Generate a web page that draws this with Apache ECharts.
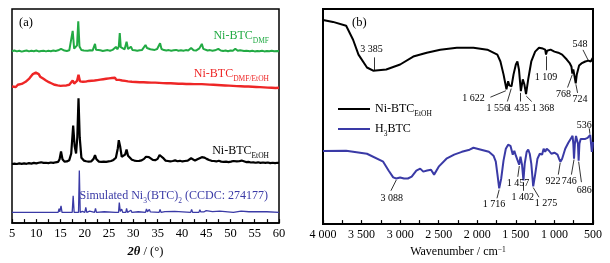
<!DOCTYPE html>
<html>
<head>
<meta charset="utf-8">
<script src="https://cdn.jsdelivr.net/npm/echarts@6/dist/echarts.min.js"></script>
<style>
  html, body { margin: 0; padding: 0; background: #fff; }
  #chart { width: 610px; height: 263px; }
</style>
</head>
<body>
<div id="chart"></div>
<script>
// ---- (a) XRD patterns: [2theta, intensity above own baseline] ----
var xrdDMF = [[5,0.3],[5.5,0.6],[6,0.2],[6.5,0.5],[7,0.1],[7.5,0.4],[8,0.6],[8.5,0.2],[9,0.5],[9.5,0.3],[10,0.6],[10.5,0.2],[11,0.4],[11.5,0.5],[12,0.2],[12.5,0.5],[13,0.3],[13.5,0.6],[14,0.4],[14.5,0.7],[14.9,0.5],[15.1,1.4],[15.3,0.5],[15.8,0.6],[16.3,0.4],[16.8,0.7],[17.2,1.2],[17.5,9.8],[17.8,1.5],[18.1,1.0],[18.4,3],[18.65,14.2],[18.9,2.5],[19.3,0.8],[19.8,0.6],[20.2,1.0],[20.6,0.5],[21.1,0.7],[21.6,0.6],[21.9,1.5],[22.1,3.7],[22.3,1.0],[22.7,0.5],[23.2,0.7],[23.7,0.4],[24.2,0.6],[24.7,0.8],[25.2,0.5],[25.7,0.9],[26.1,1.0],[26.4,2.3],[26.7,1.2],[27.0,2.5],[27.2,8.7],[27.4,2.2],[27.8,1.4],[28.2,1.2],[28.6,4.7],[28.9,1.3],[29.2,1.0],[29.5,2.4],[29.8,0.9],[30.3,0.7],[30.8,0.5],[31.3,0.7],[31.8,0.9],[32.2,1.5],[32.5,3.2],[32.8,1.8],[33.2,2.2],[33.5,1.2],[33.9,1.0],[34.4,0.9],[34.9,1.3],[35.2,1.8],[35.5,4.0],[35.8,1.3],[36.3,0.8],[36.8,0.6],[37.3,0.8],[37.8,0.5],[38.3,0.7],[38.8,0.9],[39.3,0.5],[39.8,0.7],[40.3,0.5],[40.8,0.8],[41.3,0.6],[41.9,1.8],[42.4,0.7],[42.9,0.6],[43.3,1.2],[43.6,1.6],[43.9,1.2],[44.1,3.7],[44.4,1.4],[44.8,1.0],[45.3,0.6],[45.8,0.8],[46.3,0.5],[46.8,0.7],[47.5,1.4],[48.0,0.6],[48.5,0.4],[49,0.6],[49.5,0.3],[50,0.6],[50.5,0.5],[51,1.4],[51.5,0.5],[52,0.7],[52.3,1.0],[52.8,0.4],[53.3,0.5],[54,0.3],[54.5,0.5],[55,0.2],[55.5,0.4],[56,0.3],[56.5,0.5],[57,0.2],[57.5,0.4],[58,0.3],[58.5,0.5],[59,0.3],[59.4,1.2],[59.7,0.4],[60,0.3]];

var xrdDMFEtOH = [[5,0.8],[5.4,1.5],[5.8,0.6],[6.2,1.6],[6.6,1.0],[7,2.0],[7.4,1.6],[7.8,3.0],[8.2,3.2],[8.6,4.6],[9,5.2],[9.3,6.6],[9.6,6.2],[9.9,7.3],[10.2,6.4],[10.5,6.6],[10.8,5.4],[11.1,5.6],[11.4,4.5],[11.7,4.6],[12,3.6],[12.3,3.8],[12.6,2.8],[12.9,3.1],[13.2,2.2],[13.5,2.6],[13.8,1.6],[14.1,2.2],[14.4,1.3],[14.7,1.9],[15,1.1],[15.3,2.0],[15.6,1.2],[15.9,1.9],[16.2,1.3],[16.5,2.2],[16.8,1.6],[17.1,2.4],[17.5,3.6],[17.8,2.2],[18.1,2.8],[18.4,3.4],[18.7,6.3],[19.0,3.2],[19.3,2.4],[19.6,3.0],[19.9,2.2],[20.2,3.1],[20.5,2.5],[20.8,3.4],[21.1,2.6],[21.4,3.5],[21.7,2.7],[22,3.6],[22.3,2.9],[22.6,3.8],[22.9,3.0],[23.2,4.0],[23.5,3.2],[23.8,4.2],[24.1,3.4],[24.4,4.4],[24.7,3.6],[25,4.6],[25.3,3.8],[25.6,4.8],[25.9,4.0],[26.2,4.9],[26.5,3.9],[26.8,4.7],[27.1,3.9],[27.4,4.6],[27.7,3.6],[28,4.4],[28.3,3.4],[28.6,4.1],[28.9,3.2],[29.3,3.9],[29.7,3.0],[30.1,3.7],[30.5,2.9],[30.9,3.6],[31.3,2.8],[31.7,3.5],[32.1,2.8],[32.5,3.5],[32.9,2.7],[33.3,3.4],[33.7,2.6],[34.1,3.3],[34.5,2.6],[34.9,3.3],[35.3,2.5],[35.7,3.2],[36.1,2.4],[36.5,3.1],[36.9,2.3],[37.3,3.0],[37.7,2.3],[38.1,2.9],[38.5,2.2],[38.9,2.8],[39.3,2.1],[39.7,2.8],[40.1,2.1],[40.5,2.7],[40.9,2.0],[41.3,2.7],[41.7,2.0],[42.1,2.6],[42.5,1.9],[42.9,2.6],[43.3,1.9],[43.7,2.6],[44.1,1.9],[44.5,2.5],[44.9,1.8],[45.3,2.4],[45.7,1.7],[46.1,2.3],[46.5,1.6],[46.9,2.2],[47.3,1.5],[47.7,2.1],[48.1,1.4],[48.5,2.0],[48.9,1.3],[49.3,1.9],[49.7,1.2],[50.1,1.8],[50.5,1.1],[50.9,1.7],[51.3,1.0],[51.7,1.6],[52.1,0.9],[52.5,1.5],[52.9,0.8],[53.3,1.4],[53.7,0.8],[54.1,1.3],[54.5,0.7],[54.9,1.2],[55.3,0.6],[55.7,1.1],[56.1,0.5],[56.5,1.0],[56.9,0.4],[57.3,0.9],[57.7,0.3],[58.1,0.8],[58.5,0.2],[58.9,0.7],[59.3,0.1],[59.7,0.6],[60,0.2]];

var xrdEtOH = [[5,-0.4],[5.5,-0.2],[6,-0.4],[6.5,-0.1],[7,-0.3],[7.5,-0.1],[8,-0.3],[8.5,0],[9,-0.2],[9.5,0.1],[10,-0.1],[10.5,0.2],[11,0.4],[11.5,0.1],[12,0.2],[12.5,0.0],[13,0.3],[13.5,0.1],[14,0.4],[14.5,0.6],[14.8,1.8],[15.1,5.5],[15.4,1.8],[15.8,0.7],[16.3,0.8],[16.8,1.4],[17.2,4.5],[17.6,17.6],[17.9,8.0],[18.2,4.5],[18.45,12],[18.7,30.3],[18.95,12],[19.3,2.5],[19.8,1.2],[20.3,0.9],[20.8,0.7],[21.3,0.8],[21.8,2.0],[22.1,3.8],[22.4,1.8],[22.9,0.7],[23.4,0.6],[23.9,0.7],[24.4,0.6],[24.9,0.8],[25.4,1.0],[25.9,1.5],[26.4,2.5],[26.8,7],[27.0,10.7],[27.3,7.5],[27.6,3.0],[28.0,2.2],[28.3,4],[28.6,6.4],[28.9,3.5],[29.3,3.2],[29.7,1.6],[30.2,1.2],[30.7,1.0],[31.2,1.1],[31.7,1.3],[32.2,2.0],[32.6,3.0],[32.9,3.2],[33.2,2.8],[33.6,2.0],[34.0,1.5],[34.5,1.4],[35.0,2.0],[35.4,3.8],[35.75,4.6],[36.1,2.5],[36.6,1.2],[37.1,1.0],[37.6,0.8],[38.1,1.0],[38.6,1.3],[39.1,0.9],[39.6,1.1],[40.1,0.8],[40.6,1.0],[41.2,1.2],[41.6,2.0],[41.9,2.3],[42.2,1.6],[42.7,1.2],[43.2,1.8],[43.6,2.4],[44.1,2.8],[44.6,2.6],[45.1,2.0],[45.6,1.5],[46.1,1.1],[46.6,1.0],[47.1,0.8],[47.6,1.1],[48.1,0.7],[48.6,0.6],[49.1,0.7],[49.6,0.5],[50.1,0.7],[50.6,1.0],[50.9,1.5],[51.3,0.8],[51.8,0.9],[52.3,1.2],[52.7,0.7],[53.2,0.5],[53.7,0.6],[54.2,0.3],[54.7,0.4],[55.2,0.2],[55.7,0.4],[56.2,0.1],[56.7,0.3],[57.2,0.1],[57.7,0.3],[58.2,0],[58.7,0.2],[59.2,0],[59.7,0.2],[60,0.1]];

var xrdSim = [[5,0],[10.6,0],[10.8,0.9],[11,0],[14.5,0],[14.7,1.8],[14.85,0.3],[15.1,3.1],[15.3,0],[17.4,0],[17.6,7.7],[17.8,0],[18.7,0],[18.87,19.6],[19.05,0],[19.5,0.5],[19.7,0],[20.0,0],[20.2,2.3],[20.4,0],[21.0,0.6],[21.2,0],[22.0,0],[22.2,1.9],[22.4,0],[24.0,0.3],[24.2,0],[26.3,0],[26.5,0.8],[26.7,0],[26.95,0],[27.1,4.6],[27.3,0.5],[27.6,1.5],[27.8,0],[28.45,0],[28.6,1.9],[28.8,0],[29.5,1.0],[29.7,0],[31.0,0.3],[31.2,0],[32.5,0],[32.7,1.6],[32.9,0.3],[33.3,1.4],[33.5,0.2],[33.7,1.0],[33.9,0],[35.3,0],[35.5,1.4],[35.7,0],[36.5,0.4],[36.7,0],[38.5,0.5],[38.7,0],[41.8,0],[42,1.4],[42.2,0],[43.5,0],[43.7,1.2],[43.9,0.2],[44.3,1.0],[44.5,0.2],[45,0.8],[45.2,0],[46.3,0.4],[46.5,0],[47.8,0.6],[48,0],[50.6,0],[50.8,0.8],[51,0],[52.2,0.6],[52.4,0],[53.8,0.3],[54,0],[55.5,0.4],[55.7,0],[57.5,0.3],[57.7,0],[60,0]];

// vertical offsets used to stack the patterns
var xrdOffsets = { sim: 5, etoh: 28, mix: 63, dmf: 80 };

// ---- (b) FTIR spectra: [wavenumber, transmittance (a.u.)] ----
var ftirNiBTC = [[4000,94.9],[3870,94.0],[3700,92.2],[3610,85.7],[3540,78.8],[3430,72.8],[3350,71.3],[3180,71.9],[3000,74.2],[2830,77.9],[2655,79.7],[2480,81.1],[2265,82.0],[2050,82.0],[1870,81.1],[1740,78.8],[1700,75.6],[1660,69.6],[1622,62.7],[1600,66.4],[1585,64.5],[1556,64.1],[1530,69.6],[1500,74.2],[1480,75.6],[1460,71.9],[1435,61.8],[1410,67.3],[1390,65],[1368,60.4],[1340,67.3],[1300,75.6],[1250,80.2],[1200,82],[1150,81.6],[1120,81.1],[1109,78.8],[1095,80.6],[1050,81.1],[1000,80.2],[950,79.7],[900,78.8],[840,76.5],[800,74.7],[780,73.3],[768,70],[755,71.9],[740,71],[724,65.4],[710,69.6],[680,73.7],[650,74.7],[600,75.6],[560,76],[548,76.5],[530,75.6],[500,77.4]];

var ftirH3BTC = [[4000,34.0],[3700,34.1],[3430,32.7],[3220,29.0],[3150,24.9],[3090,21.7],[3050,21.2],[3000,21.7],[2950,21.2],[2900,21.2],[2850,22.1],[2790,24.9],[2740,25.8],[2700,24.4],[2650,24.9],[2600,25.3],[2560,23.0],[2500,26.7],[2400,30.4],[2300,32.3],[2200,33.6],[2100,34.6],[2050,35.5],[1950,34.6],[1850,33.6],[1790,31.8],[1760,29],[1740,23.5],[1716,16.6],[1690,21.2],[1660,29.5],[1630,35],[1600,36.9],[1570,36.4],[1540,32.3],[1520,34.1],[1500,31.8],[1475,31.3],[1457,27.6],[1440,31.3],[1420,27.6],[1402,20.3],[1385,28.1],[1360,33.6],[1340,34.6],[1320,32.7],[1300,28.1],[1275,17.5],[1250,23.0],[1220,30.4],[1190,32.7],[1160,32.3],[1140,35],[1120,33.6],[1100,35],[1070,34.1],[1040,32.7],[1000,33.2],[960,32.3],[940,30.4],[922,29.0],[900,30.4],[860,35],[820,37.8],[790,39.6],[765,41.0],[755,37.3],[746,30.4],[735,37.3],[720,41],[705,41.5],[695,37.3],[686,29.5],[676,37.3],[660,39.6],[630,39.6],[600,39.6],[570,40.1],[550,40.6],[536,41.5],[525,37.3],[515,33.6],[505,35.9],[500,38.2]];

// peak labels: [text, label x, label y, arrow from x, from y, arrow to x, to y]
var peaksNiBTC = [
  ['3 385', 3370, 81, 3330, 71.5, 3330, 77.5],
  ['1 622', 2050, 58.5, 1630, 62, 1830, 59],
  ['1 556', 1734, 54, 1560, 63, 1610, 57],
  ['1 435', 1471, 54, 1440, 61, 1440, 57],
  ['1 368', 1147, 54, 1365, 59.5, 1295, 57],
  ['1 109', 1108, 68, 1105, 78, 1105, 71.5],
  ['768', 883, 60.4, 768, 69.5, 830, 63.5],
  ['724', 667, 58, 722, 65, 700, 61],
  ['548', 667, 83.4, 560, 76, 630, 81]
];
var peaksH3BTC = [
  ['536', 615, 46, 540, 42, 548, 44.5],
  ['3 088', 3109, 12, 3050, 20.5, 3120, 15.5],
  ['1 716', 1782, 9.2, 1716, 16, 1745, 12],
  ['1 457', 1471, 18.9, 1455, 27, 1475, 22],
  ['1 402', 1410, 12.6, 1400, 19.5, 1400, 15.5],
  ['1 275', 1108, 9.7, 1275, 17, 1200, 12.5],
  ['922', 1017, 19.8, 925, 28.5, 950, 23],
  ['746', 809, 19.8, 746, 30, 780, 23],
  ['686', 615, 15.8, 686, 29, 650, 19.5]
];

var serif = 'Liberation Serif, Times New Roman, serif';
var cGreen = '#22aa44', cRed = '#ee2626', cBlack = '#000000', cBlue = '#3a3aa6';

function shift(arr, d) {
  return arr.map(function (p) { return [p[0], p[1] + d]; });
}
function peakArrows(list) {
  return list.map(function (p) {
    return [{ coord: [p[3], p[4]] }, { coord: [p[5], p[6]] }];
  });
}
function peakTexts(list) {
  return list.map(function (p) {
    return { name: p[0], coord: [p[1], p[2]] };
  });
}
function wnFmt(v) {
  if (v >= 1000) {
    var r = String(v % 1000);
    while (r.length < 3) r = '0' + r;
    return Math.floor(v / 1000) + ' ' + r;
  }
  return String(v);
}

var subRich = {
  m: { fontFamily: serif, fontSize: 12 },
  s: { fontFamily: serif, fontSize: 7.5, verticalAlign: 'bottom', padding: [0, 0, -3, 0] }
};

var markCommon = function (list) {
  return {
    markLine: {
      silent: true, animation: false,
      symbol: ['none', 'arrow'], symbolSize: [0, 5],
      lineStyle: { color: '#000', width: 0.8, type: 'solid' },
      label: { show: false },
      data: peakArrows(list)
    },
    markPoint: {
      silent: true, animation: false,
      symbol: 'circle', symbolSize: 1,
      itemStyle: { color: 'rgba(0,0,0,0)' },
      label: { show: true, position: 'inside', formatter: '{b}', color: '#000', fontFamily: serif, fontSize: 10 },
      data: peakTexts(list)
    }
  };
};

var lineBase = { type: 'line', symbol: 'none', showSymbol: false, animation: false, silent: true };

var seriesNiB = Object.assign({}, lineBase, {
  name: 'NiBTC', xAxisIndex: 1, yAxisIndex: 1, data: ftirNiBTC,
  lineStyle: { color: cBlack, width: 2 }, itemStyle: { color: cBlack }
}, markCommon(peaksNiBTC));
var seriesH3 = Object.assign({}, lineBase, {
  name: 'H3BTC', xAxisIndex: 1, yAxisIndex: 1, data: ftirH3BTC,
  lineStyle: { color: cBlue, width: 2 }, itemStyle: { color: cBlue }
}, markCommon(peaksH3BTC));

var option = {
  backgroundColor: '#fff',
  animation: false,
  grid: [
    { left: 12, top: 9, width: 267, height: 218, show: true, borderColor: '#000', borderWidth: 1.5 },
    { left: 323, top: 9, width: 270, height: 217, show: true, borderColor: '#000', borderWidth: 2 }
  ],
  xAxis: [{
    type: 'value', gridIndex: 0, min: 5, max: 60, interval: 5,
    axisLine: { lineStyle: { color: '#000', width: 1.5 } },
    axisTick: { inside: true, length: 4, lineStyle: { color: '#000', width: 1.2 } },
    minorTick: { show: true, splitNumber: 2, length: 4, lineStyle: { color: '#000', width: 1.2 } },
    splitLine: { show: false },
    axisLabel: { color: '#000', fontFamily: serif, fontSize: 12.5, margin: 4 },
    name: '{i|2θ} / (°)', nameLocation: 'middle', nameGap: 16,
    nameTextStyle: { color: '#000', fontFamily: serif, fontSize: 12.5,
      rich: { i: { fontFamily: serif, fontSize: 12.5, fontStyle: 'italic', fontWeight: 'bold', color: '#000' } } }
  }, {
    type: 'value', gridIndex: 1, min: 500, max: 4000, interval: 500, inverse: true,
    axisLine: { lineStyle: { color: '#000', width: 2 } },
    axisTick: { inside: true, length: 4, lineStyle: { color: '#000', width: 1.2 } },
    minorTick: { show: true, splitNumber: 2, length: 4, lineStyle: { color: '#000', width: 1.2 } },
    splitLine: { show: false },
    axisLabel: { color: '#000', fontFamily: serif, fontSize: 12, margin: 5, formatter: wnFmt },
    name: 'Wavenumber / cm{sup|−1}', nameLocation: 'middle', nameGap: 17,
    nameTextStyle: { color: '#000', fontFamily: serif, fontSize: 12,
      rich: { sup: { fontFamily: serif, fontSize: 7.5, verticalAlign: 'top', color: '#000' } } }
  }],
  yAxis: [
    { type: 'value', gridIndex: 0, min: 0, max: 100, show: false },
    { type: 'value', gridIndex: 1, min: 0, max: 100, show: false }
  ],
  legend: {
    data: ['NiBTC', 'H3BTC'],
    left: 333, top: 98, orient: 'vertical',
    icon: 'rect', itemWidth: 32, itemHeight: 2, itemGap: 5,
    formatter: function (n) {
      return n === 'NiBTC' ? '{m|Ni-BTC}{s|EtOH}' : '{m|H}{s|3}{m|BTC}';
    },
    textStyle: { color: '#000', fontFamily: serif, fontSize: 12, rich: subRich }
  },
  series: [
    Object.assign({}, lineBase, { name: 'DMF', xAxisIndex: 0, yAxisIndex: 0,
      data: shift(xrdDMF, xrdOffsets.dmf), lineStyle: { color: cGreen, width: 2 } }),
    Object.assign({}, lineBase, { name: 'DMF/EtOH', xAxisIndex: 0, yAxisIndex: 0,
      data: shift(xrdDMFEtOH, xrdOffsets.mix), lineStyle: { color: cRed, width: 2.4 } }),
    Object.assign({}, lineBase, { name: 'EtOH', xAxisIndex: 0, yAxisIndex: 0,
      data: shift(xrdEtOH, xrdOffsets.etoh), lineStyle: { color: cBlack, width: 2.2 } }),
    Object.assign({}, lineBase, { name: 'Sim', xAxisIndex: 0, yAxisIndex: 0,
      data: shift(xrdSim, xrdOffsets.sim), lineStyle: { color: cBlue, width: 1.3 } }),
    seriesNiB,
    seriesH3
  ],
  graphic: [
    { type: 'text', left: 19, top: 16, style: { text: '(a)', fontFamily: serif, fontSize: 12.5, fill: '#000' } },
    { type: 'text', left: 352, top: 16, style: { text: '(b)', fontFamily: serif, fontSize: 12.5, fill: '#000' } },
    { type: 'text', right: 341, top: 30, style: { text: '{m|Ni-BTC}{s|DMF}', fill: cGreen, rich: subRich } },
    { type: 'text', right: 341, top: 68, style: { text: '{m|Ni-BTC}{s|DMF/EtOH}', fill: cRed, rich: subRich } },
    { type: 'text', right: 341, top: 145, style: { text: '{m|Ni-BTC}{s|EtOH}', fill: cBlack, rich: subRich } },
    { type: 'text', right: 342, top: 190, style: { text: '{m|Simulated Ni}{s|3}{m|(BTC)}{s|2}{m| (CCDC: 274177)}', fill: cBlue, rich: subRich } }
  ]
};

var chart = echarts.init(document.getElementById('chart'), null, { renderer: 'canvas' });
chart.setOption(option);
</script>
</body>
</html>
